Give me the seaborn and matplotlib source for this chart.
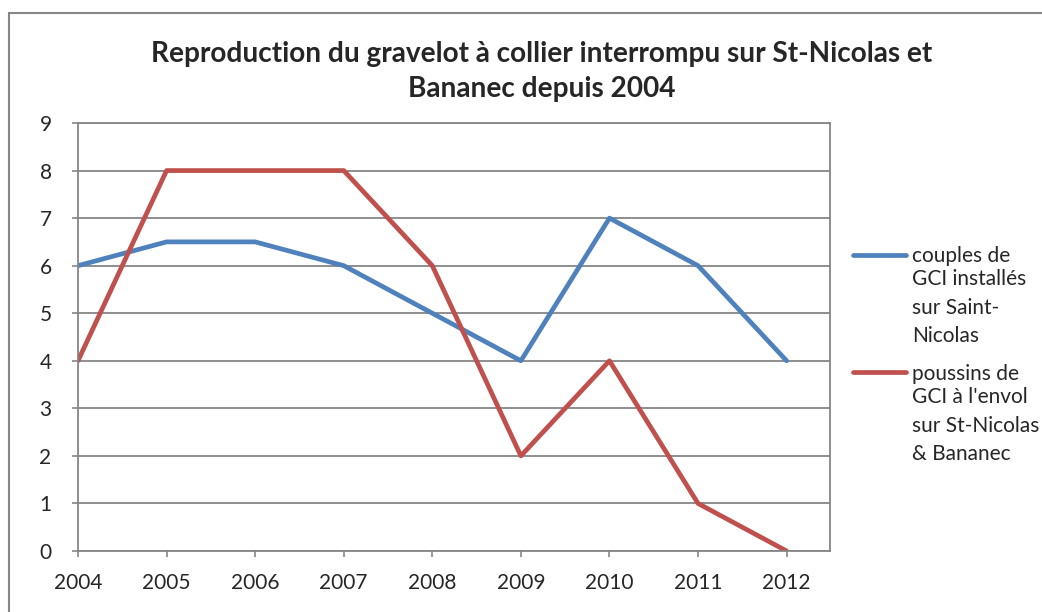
import numpy as np
import pandas as pd
import seaborn as sns
import matplotlib.pyplot as plt
from matplotlib.patches import Rectangle

years = [2004, 2005, 2006, 2007, 2008, 2009, 2010, 2011, 2012]
couples = [6, 6.5, 6.5, 6, 5, 4, 7, 6, 4]
poussins = [4, 8, 8, 8, 6, 2, 4, 1, 0]
series = ["couples", "poussins"]
# legend text, Excel-style wrapped on several lines
leg_first = ["couples de", "poussins de"]
leg_rest = ["GCI installés\nsur Saint-\nNicolas",
            "GCI à l'envol\nsur St-Nicolas\n& Bananec"]
colors = ["#4F81BD", "#C0504D"]
title = "Reproduction du gravelot à collier interrompu sur St-Nicolas et\nBananec depuis 2004"

df = pd.DataFrame({"annee": years * 2,
                   "valeur": couples + poussins,
                   "serie": [series[0]] * len(years) + [series[1]] * len(years)})

sns.set_style("white")
plt.rcParams['font.family'] = ['Lato', 'DejaVu Sans']
plt.rcParams['ytick.major.pad'] = 15
plt.rcParams['xtick.major.pad'] = 12

fig = plt.figure(figsize=(10.42, 6.12), dpi=100)
ax = fig.add_axes([78 / 1042, 61 / 612, 752 / 1042, 428 / 612])

sns.lineplot(data=df, x="annee", y="valeur", hue="serie", palette=colors,
             linewidth=3.4, ax=ax, legend=True)

ax.set_xlim(2004, 2012.49)
ax.set_ylim(0, 9)
ax.set_xticks(years)
ax.set_yticks(range(10))
ax.set_xticklabels([str(y) for y in years], fontsize=15)
ax.set_yticklabels([str(i) for i in range(10)], fontsize=15)
ax.set_xlabel("")
ax.set_ylabel("")
ax.grid(axis="y", color="#868686", linewidth=1.3)
ax.grid(axis="x", visible=False)
ax.set_axisbelow(True)
for s in ax.spines.values():
    s.set_color("#868686")
    s.set_linewidth(1.3)
ax.tick_params(axis="both", length=4, width=1.2, color="#868686",
               direction="out", left=True, bottom=True)

fig.text(0.520, 0.883, title, ha="center", va="center", fontsize=20.2,
         fontweight="bold", linespacing=1.42)

handles, _ = ax.get_legend_handles_labels()
leg = ax.legend(handles, leg_first, loc="upper left",
                bbox_to_anchor=(1.0306, 0.713), frameon=False,
                fontsize=15, handlelength=2.55, handletextpad=0.3,
                labelspacing=4.7, borderaxespad=0, borderpad=0)
for t, rest in zip(leg.get_texts(), leg_rest):
    ax.annotate(rest, xy=(0, 0), xycoords=t, xytext=(0, -2.6),
                textcoords="offset points", ha="left", va="top",
                fontsize=15, linespacing=1.53, zorder=10,
                annotation_clip=False)

fig.add_artist(Rectangle((9 / 1042, -0.05), 1.2, (599 / 612) + 0.05,
                         transform=fig.transFigure, fill=False,
                         edgecolor="#868686", linewidth=1.5))

fig.savefig("out.png", dpi=100)
